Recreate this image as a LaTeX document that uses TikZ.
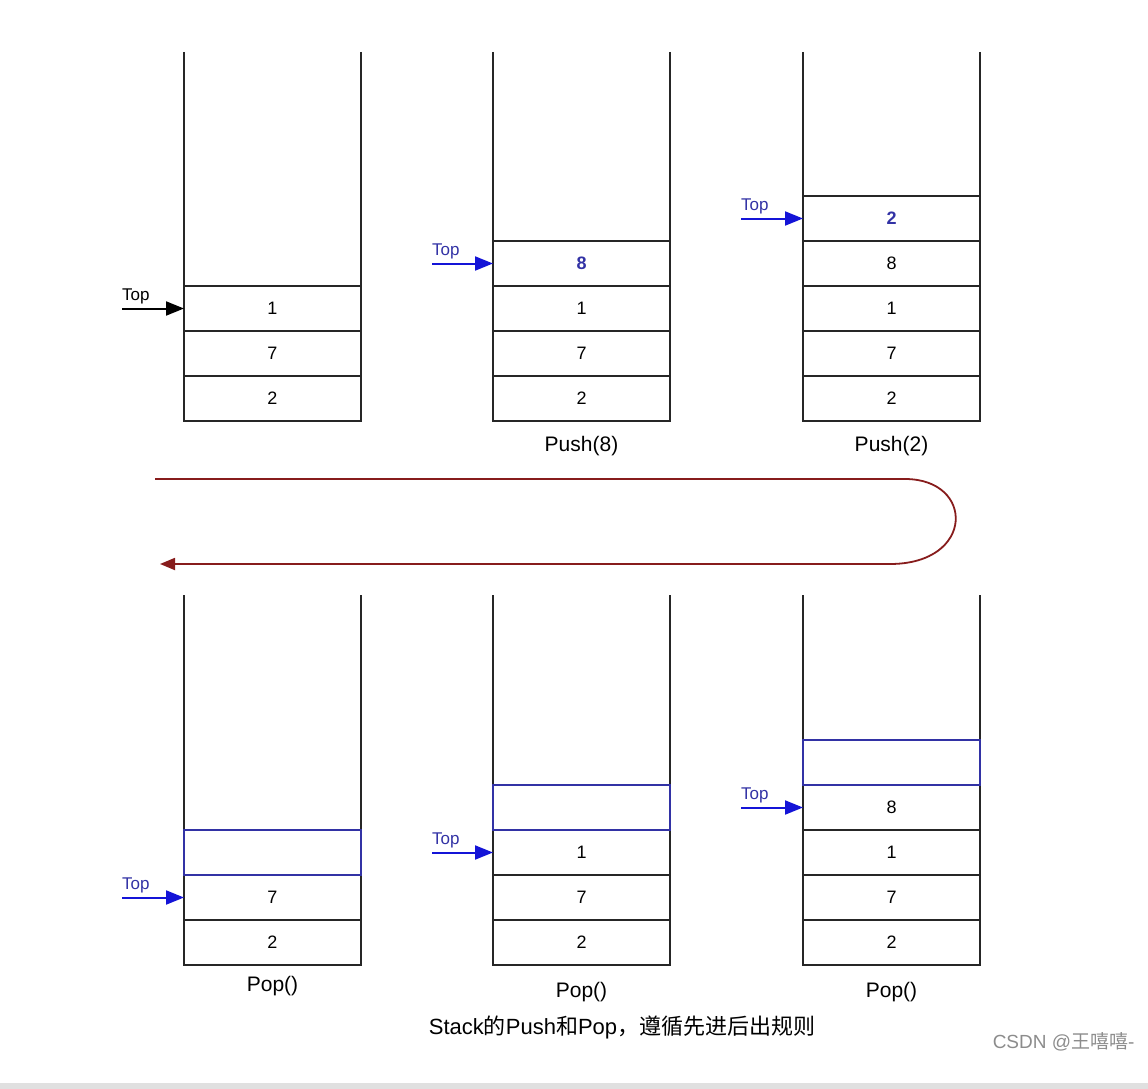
\documentclass[tikz,border=0pt]{standalone}
\usepackage{fontspec}
\setmainfont{Liberation Sans}
\newfontfamily\cjk{Noto Sans CJK SC}
\usetikzlibrary{arrows.meta, positioning}
\definecolor{ptrblue}{RGB}{20,20,215}
\definecolor{boxblue}{RGB}{50,50,165}
\definecolor{uturnred}{RGB}{135,28,28}
\tikzset{
  cell/.style   ={rectangle, draw=black!85, line width=1.4pt, minimum width=177pt,
                  minimum height=45pt, inner sep=0pt, outer sep=0pt,
                  font=\fontsize{18}{20}\selectfont},
  cellb/.style  ={cell, draw=boxblue, line width=2.2pt},
  newv/.style   ={font=\fontsize{18}{20}\selectfont\bfseries, text=boxblue},
  wall/.style   ={draw=black!85, line width=1.4pt},
  ptr/.style    ={-{Triangle[length=18pt,width=14pt]}, line width=2pt},
  ptrk/.style   ={ptr, draw=black},
  ptrb/.style   ={ptr, draw=ptrblue},
  toplbl/.style ={inner sep=0pt, font=\fontsize{17}{19}\selectfont},
  oplbl/.style  ={font=\fontsize{21}{23}\selectfont},
  uturn/.style  ={draw=uturnred, line width=1.8pt, -{Triangle[length=15pt,width=12pt]}},
}
\begin{document}
\begin{tikzpicture}[x=1pt,y=-1pt]
\useasboundingbox (0,0) rectangle (1148,1089);
\coordinate (uptop) at (0,52);
\coordinate (lowtop) at (0,595);

% upper row: start, push(8), push(2)
\node[cell] (a1) at (272.5,398.5) {2};
\node[cell, above=0pt of a1] (a2) {7};
\node[cell, above=0pt of a2] (a3) {1};
\draw[wall] (a1.south west |- uptop) -- (a1.south west);
\draw[wall] (a1.south east |- uptop) -- (a1.south east);
\coordinate (ta) at ([xshift=-62pt]a3.west);
\draw[ptrk] (ta) -- (a3.west);
\node[toplbl, above right=4pt and 0pt of ta] (la) {Top};

\node[cell] (b1) at (581.5,398.5) {2};
\node[cell, above=0pt of b1] (b2) {7};
\node[cell, above=0pt of b2] (b3) {1};
\node[cell, above=0pt of b3, newv] (b4) {8};
\draw[wall] (b1.south west |- uptop) -- (b1.south west);
\draw[wall] (b1.south east |- uptop) -- (b1.south east);
\coordinate (tb) at ([xshift=-61pt]b4.west);
\draw[ptrb] (tb) -- (b4.west);
\node[toplbl, text=boxblue, above right=4pt and 0pt of tb] (lb) {Top};
\node[oplbl, below=12pt of b1] (pb) {Push(8)};

\node[cell] (c1) at (891.5,398.5) {2};
\node[cell, above=0pt of c1] (c2) {7};
\node[cell, above=0pt of c2] (c3) {1};
\node[cell, above=0pt of c3] (c4) {8};
\node[cell, above=0pt of c4, newv] (c5) {2};
\draw[wall] (c1.south west |- uptop) -- (c1.south west);
\draw[wall] (c1.south east |- uptop) -- (c1.south east);
\coordinate (tc) at ([xshift=-62pt]c5.west);
\draw[ptrb] (tc) -- (c5.west);
\node[toplbl, text=boxblue, above right=4pt and 0pt of tc] (lc) {Top};
\node[oplbl, below=12pt of c1] (pc) {Push(2)};

% turn back
\coordinate (ua) at (155,479);
\coordinate (ub) at (160,564);
\draw[uturn] (ua) -- (905,479) .. controls (975,479) and (975,564) .. (890,564) -- (ub);

% lower row: pop, pop, pop (freed slot drawn over the walls)
\node[cell] (d1) at (272.5,942.5) {2};
\node[cell, above=0pt of d1] (d2) {7};
\draw[wall] (d1.south west |- lowtop) -- (d1.south west);
\draw[wall] (d1.south east |- lowtop) -- (d1.south east);
\node[cellb, above=0pt of d2] (d3) {};
\coordinate (td) at ([xshift=-62pt]d2.west);
\draw[ptrb] (td) -- (d2.west);
\node[toplbl, text=boxblue, above right=4pt and 0pt of td] (ld) {Top};
\node[oplbl, below=8pt of d1] (pd) {Pop()};

\node[cell] (e1) at (581.5,942.5) {2};
\node[cell, above=0pt of e1] (e2) {7};
\node[cell, above=0pt of e2] (e3) {1};
\draw[wall] (e1.south west |- lowtop) -- (e1.south west);
\draw[wall] (e1.south east |- lowtop) -- (e1.south east);
\node[cellb, above=0pt of e3] (e4) {};
\coordinate (te) at ([xshift=-61pt]e3.west);
\draw[ptrb] (te) -- (e3.west);
\node[toplbl, text=boxblue, above right=4pt and 0pt of te] (le) {Top};
\node[oplbl, below=14pt of e1] (pe) {Pop()};

\node[cell] (f1) at (891.5,942.5) {2};
\node[cell, above=0pt of f1] (f2) {7};
\node[cell, above=0pt of f2] (f3) {1};
\node[cell, above=0pt of f3] (f4) {8};
\draw[wall] (f1.south west |- lowtop) -- (f1.south west);
\draw[wall] (f1.south east |- lowtop) -- (f1.south east);
\node[cellb, above=0pt of f4] (f5) {};
\coordinate (tf) at ([xshift=-62pt]f4.west);
\draw[ptrb] (tf) -- (f4.west);
\node[toplbl, text=boxblue, above right=4pt and 0pt of tf] (lf) {Top};
\node[oplbl, below=14pt of f1] (pf) {Pop()};

% caption and footer
\node[font=\fontsize{22}{24}\selectfont] (cap) at (622,1027)
  {Stack{\cjk 的}Push{\cjk 和}Pop{\cjk ，遵循先进后出规则}};
\node[anchor=east, text=black!45, font=\fontsize{19}{21}\selectfont] (wm) at (1138,1042)
  {CSDN @{\cjk 王嘻嘻}-};
\fill[black!12] (0,1083) rectangle (1148,1089);
\end{tikzpicture}
\end{document}
